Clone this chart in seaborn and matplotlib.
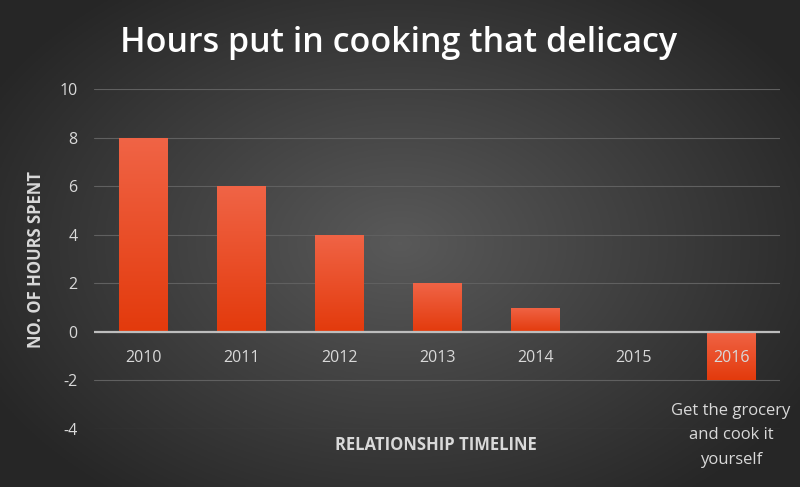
import numpy as np
import pandas as pd
import matplotlib
matplotlib.use("Agg")
import matplotlib.pyplot as plt
import seaborn as sns

# data
years = ["2010", "2011", "2012", "2013", "2014", "2015", "2016"]
hours = [8, 6, 4, 2, 1, 0, -2]
note = "Get the grocery\nand cook it\nyourself"

df = pd.DataFrame({"year": years, "hours": hours})

sns.set_style("dark")
plt.rcParams["font.family"] = ["Open Sans", "DejaVu Sans"]
plt.rcParams["axes.unicode_minus"] = False

fig = plt.figure(figsize=(8, 4.87), dpi=100)

# radial dark-grey background
bg = fig.add_axes([0, 0, 1, 1], zorder=0)
gx, gy = np.meshgrid(np.linspace(-1, 1, 400), np.linspace(-1, 1, 250))
r = np.sqrt((gx * 0.9) ** 2 + (gy * 0.8) ** 2)
shade = np.clip(0.35 - 0.19 * r, 0.15, 0.35)
bg.imshow(np.dstack([shade] * 3), aspect="auto", extent=[0, 1, 0, 1])
bg.axis("off")

ax = fig.add_axes([0.1175, 0.119, 0.8575, 0.698], zorder=1)
ax.patch.set_alpha(0)
sns.barplot(data=df, x="year", y="hours", color="#ea4a1e", width=0.49,
            saturation=1, ax=ax)

# vertical gradient on each bar
grad = np.linspace(0, 1, 256).reshape(-1, 1)
cmap = matplotlib.colors.LinearSegmentedColormap.from_list(
    "bar", ["#e33a0c", "#f06446"])
for p in ax.patches:
    x0, y0 = p.get_x(), p.get_y()
    w, h = p.get_width(), p.get_height()
    p.set_edgecolor("none")
    if h == 0:
        p.set_alpha(0)
        continue
    lo, hi = min(y0, y0 + h), max(y0, y0 + h)
    im = ax.imshow(grad, cmap=cmap, origin="lower", aspect="auto",
                   extent=[x0, x0 + w, lo, hi], zorder=2)
    im.set_clip_path(p)

ax.set_xlim(-0.5, len(years) - 0.5)
ax.set_ylim(-4, 10)
ax.set_yticks(range(-4, 11, 2))
ax.grid(axis="y", color="#606060", linewidth=0.8)
ax.grid(axis="x", visible=False)
ax.set_axisbelow(True)
ax.axhline(0, color="#bdbdbd", linewidth=1.6, zorder=3)
for s in ax.spines.values():
    s.set_visible(False)

ax.tick_params(axis="y", colors="#d9d9d9", labelsize=11.5, length=0, pad=12)
ax.set_xticks([])
ax.set_xlabel("")
ax.set_ylabel("NO. OF HOURS SPENT", color="#d9d9d9", fontsize=12,
              fontweight="bold", labelpad=10)

# category labels sit just under the zero line
for i, yr in enumerate(years):
    ax.annotate(yr, (i, 0), xytext=(0, -13), textcoords="offset points",
                ha="center", va="top", color="#d9d9d9", fontsize=11.5,
                zorder=4)

ax.annotate(note, (len(years) - 1, -2), xytext=(0, -16),
            textcoords="offset points", ha="center", va="top",
            color="#d9d9d9", fontsize=12, linespacing=1.7)

fig.text(0.545, 0.087, "RELATIONSHIP TIMELINE", ha="center", va="center",
         color="#d9d9d9", fontsize=12, fontweight="bold")
fig.text(0.498, 0.912, "Hours put in cooking that delicacy", ha="center",
         va="center", color="white", fontsize=24.5, fontweight="semibold")

fig.savefig("out.png", dpi=100)
